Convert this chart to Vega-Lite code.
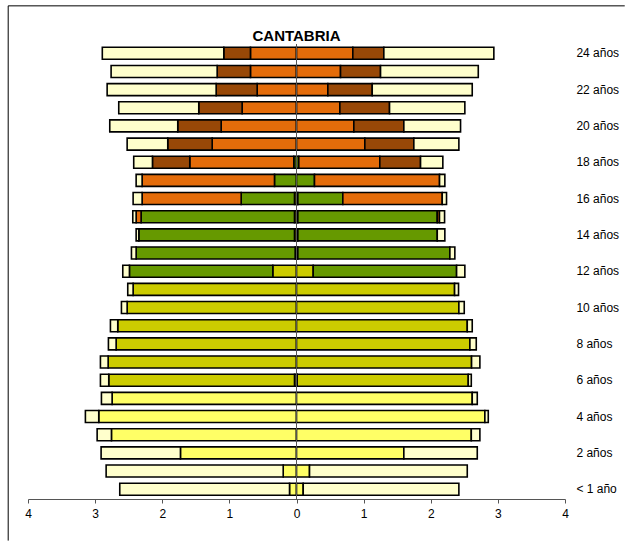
{
  "$schema": "https://vega.github.io/schema/vega-lite/v6.json",
  "width": 537,
  "height": 455,
  "autosize": {"type": "pad"},
  "padding": {"left": 7, "top": 5, "right": 0, "bottom": 0},
  "background": "white",
  "config": {"view": {"stroke": null}, "font": "Liberation Sans"},
  "datasets": {
    "d": [
      {"age":24,"cat":"post","o":4,"v":-0.686},{"age":24,"cat":"sup","o":5,"v":-0.397},{"age":24,"cat":"no","o":6,"v":-1.81},
      {"age":24,"cat":"post","o":4,"v":0.839},{"age":24,"cat":"sup","o":5,"v":0.462},{"age":24,"cat":"no","o":6,"v":1.639},
      {"age":23,"cat":"post","o":4,"v":-0.686},{"age":23,"cat":"sup","o":5,"v":-0.496},{"age":23,"cat":"no","o":6,"v":-1.58},
      {"age":23,"cat":"post","o":4,"v":0.656},{"age":23,"cat":"sup","o":5,"v":0.596},{"age":23,"cat":"no","o":6,"v":1.456},
      {"age":22,"cat":"post","o":4,"v":-0.586},{"age":22,"cat":"sup","o":5,"v":-0.611},{"age":22,"cat":"no","o":6,"v":-1.624},
      {"age":22,"cat":"post","o":4,"v":0.467},{"age":22,"cat":"sup","o":5,"v":0.661},{"age":22,"cat":"no","o":6,"v":1.49},
      {"age":21,"cat":"post","o":4,"v":-0.81},{"age":21,"cat":"sup","o":5,"v":-0.646},{"age":21,"cat":"no","o":6,"v":-1.192},
      {"age":21,"cat":"post","o":4,"v":0.646},{"age":21,"cat":"sup","o":5,"v":0.74},{"age":21,"cat":"no","o":6,"v":1.122},
      {"age":20,"cat":"post","o":4,"v":-1.122},{"age":20,"cat":"sup","o":5,"v":-0.647},{"age":20,"cat":"no","o":6,"v":-1.013},
      {"age":20,"cat":"post","o":4,"v":0.854},{"age":20,"cat":"sup","o":5,"v":0.745},{"age":20,"cat":"no","o":6,"v":0.845},
      {"age":19,"cat":"post","o":4,"v":-1.256},{"age":19,"cat":"sup","o":5,"v":-0.662},{"age":19,"cat":"no","o":6,"v":-0.605},
      {"age":19,"cat":"post","o":4,"v":1.018},{"age":19,"cat":"sup","o":5,"v":0.73},{"age":19,"cat":"no","o":6,"v":0.671},
      {"age":18,"cat":"eso","o":3,"v":-0.04},{"age":18,"cat":"post","o":4,"v":-1.55},{"age":18,"cat":"sup","o":5,"v":-0.556},{"age":18,"cat":"no","o":6,"v":-0.279},
      {"age":18,"cat":"eso","o":3,"v":0.034},{"age":18,"cat":"post","o":4,"v":1.207},{"age":18,"cat":"sup","o":5,"v":0.607},{"age":18,"cat":"no","o":6,"v":0.332},
      {"age":17,"cat":"eso","o":3,"v":-0.328},{"age":17,"cat":"post","o":4,"v":-1.972},{"age":17,"cat":"no","o":6,"v":-0.089},
      {"age":17,"cat":"eso","o":3,"v":0.268},{"age":17,"cat":"post","o":4,"v":1.863},{"age":17,"cat":"no","o":6,"v":0.079},
      {"age":16,"cat":"pri","o":2,"v":-0.03},{"age":16,"cat":"eso","o":3,"v":-0.794},{"age":16,"cat":"post","o":4,"v":-1.476},{"age":16,"cat":"no","o":6,"v":-0.134},
      {"age":16,"cat":"pri","o":2,"v":0.02},{"age":16,"cat":"eso","o":3,"v":0.67},{"age":16,"cat":"post","o":4,"v":1.481},{"age":16,"cat":"no","o":6,"v":0.064},
      {"age":15,"cat":"pri","o":2,"v":-0.03},{"age":15,"cat":"eso","o":3,"v":-2.285},{"age":15,"cat":"post","o":4,"v":-0.074},{"age":15,"cat":"no","o":6,"v":-0.05},
      {"age":15,"cat":"pri","o":2,"v":0.02},{"age":15,"cat":"eso","o":3,"v":2.077},{"age":15,"cat":"post","o":4,"v":0.033},{"age":15,"cat":"no","o":6,"v":0.076},
      {"age":14,"cat":"pri","o":2,"v":-0.03},{"age":14,"cat":"eso","o":3,"v":-2.319},{"age":14,"cat":"no","o":6,"v":-0.04},
      {"age":14,"cat":"pri","o":2,"v":0.02},{"age":14,"cat":"eso","o":3,"v":2.077},{"age":14,"cat":"no","o":6,"v":0.113},
      {"age":13,"cat":"pri","o":2,"v":-0.02},{"age":13,"cat":"eso","o":3,"v":-2.369},{"age":13,"cat":"no","o":6,"v":-0.07},
      {"age":13,"cat":"pri","o":2,"v":0.02},{"age":13,"cat":"eso","o":3,"v":2.265},{"age":13,"cat":"no","o":6,"v":0.074},
      {"age":12,"cat":"pri","o":2,"v":-0.353},{"age":12,"cat":"eso","o":3,"v":-2.136},{"age":12,"cat":"no","o":6,"v":-0.099},
      {"age":12,"cat":"pri","o":2,"v":0.249},{"age":12,"cat":"eso","o":3,"v":2.136},{"age":12,"cat":"no","o":6,"v":0.123},
      {"age":11,"cat":"pri","o":2,"v":-2.434},{"age":11,"cat":"no","o":6,"v":-0.08},
      {"age":11,"cat":"pri","o":2,"v":2.355},{"age":11,"cat":"no","o":6,"v":0.059},
      {"age":10,"cat":"pri","o":2,"v":-2.523},{"age":10,"cat":"no","o":6,"v":-0.085},
      {"age":10,"cat":"pri","o":2,"v":2.419},{"age":10,"cat":"no","o":6,"v":0.08},
      {"age":9,"cat":"pri","o":2,"v":-2.663},{"age":9,"cat":"no","o":6,"v":-0.109},
      {"age":9,"cat":"pri","o":2,"v":2.544},{"age":9,"cat":"no","o":6,"v":0.074},
      {"age":8,"cat":"pri","o":2,"v":-2.687},{"age":8,"cat":"no","o":6,"v":-0.115},
      {"age":8,"cat":"pri","o":2,"v":2.583},{"age":8,"cat":"no","o":6,"v":0.095},
      {"age":7,"cat":"pri","o":2,"v":-2.806},{"age":7,"cat":"no","o":6,"v":-0.115},
      {"age":7,"cat":"pri","o":2,"v":2.608},{"age":7,"cat":"no","o":6,"v":0.124},
      {"age":6,"cat":"inf","o":1,"v":-0.03},{"age":6,"cat":"pri","o":2,"v":-2.767},{"age":6,"cat":"no","o":6,"v":-0.124},
      {"age":6,"cat":"inf","o":1,"v":0.01},{"age":6,"cat":"pri","o":2,"v":2.549},{"age":6,"cat":"no","o":6,"v":0.045},
      {"age":5,"cat":"inf","o":1,"v":-2.747},{"age":5,"cat":"no","o":6,"v":-0.159},
      {"age":5,"cat":"inf","o":1,"v":2.618},{"age":5,"cat":"no","o":6,"v":0.075},
      {"age":4,"cat":"inf","o":1,"v":-2.946},{"age":4,"cat":"no","o":6,"v":-0.199},
      {"age":4,"cat":"inf","o":1,"v":2.806},{"age":4,"cat":"no","o":6,"v":0.051},
      {"age":3,"cat":"inf","o":1,"v":-2.757},{"age":3,"cat":"no","o":6,"v":-0.213},
      {"age":3,"cat":"inf","o":1,"v":2.604},{"age":3,"cat":"no","o":6,"v":0.128},
      {"age":2,"cat":"inf","o":1,"v":-1.729},{"age":2,"cat":"no","o":6,"v":-1.182},
      {"age":2,"cat":"inf","o":1,"v":1.599},{"age":2,"cat":"no","o":6,"v":1.094},
      {"age":1,"cat":"inf","o":1,"v":-0.198},{"age":1,"cat":"no","o":6,"v":-2.638},
      {"age":1,"cat":"inf","o":1,"v":0.194},{"age":1,"cat":"no","o":6,"v":2.35},
      {"age":0,"cat":"inf","o":1,"v":-0.104},{"age":0,"cat":"no","o":6,"v":-2.529},
      {"age":0,"cat":"inf","o":1,"v":0.1},{"age":0,"cat":"no","o":6,"v":2.319}
    ],
    "labels": [
      {"age":24,"label":"24 años"},{"age":22,"label":"22 años"},{"age":20,"label":"20 años"},
      {"age":18,"label":"18 años"},{"age":16,"label":"16 años"},{"age":14,"label":"14 años"},
      {"age":12,"label":"12 años"},{"age":10,"label":"10 años"},{"age":8,"label":"8 años"},
      {"age":6,"label":"6 años"},{"age":4,"label":"4 años"},{"age":2,"label":"2 años"},
      {"age":0,"label":"< 1 año"}
    ]
  },
  "layer": [
    {
      "data": {"name": "d"},
      "mark": {"type": "bar", "orient": "horizontal", "size": 12, "stroke": "black", "strokeWidth": 1.6},
      "encoding": {
        "x": {
          "field": "v", "type": "quantitative", "stack": "zero",
          "scale": {"domain": [-4, 4], "nice": false, "zero": false, "padding": 0},
          "axis": {
            "title": null, "grid": false, "values": [-4,-3,-2,-1,0,1,2,3,4],
            "labelExpr": "abs(datum.value)", "domainColor": "#555555", "tickColor": "#555555",
            "tickSize": 4, "labelFontSize": 12, "labelColor": "black", "labelPadding": 5,
            "labelFlush": false, "labelOverlap": false
          }
        },
        "y": {
          "field": "age", "type": "quantitative",
          "scale": {"domain": [-0.54, 24.51], "nice": false, "zero": false, "padding": 0},
          "axis": null
        },
        "color": {
          "field": "cat", "type": "nominal",
          "scale": {"domain": ["inf","pri","eso","post","sup","no"], "range": ["#FFFF66","#CCCC00","#669900","#E46C0A","#984807","#FFFFCC"]},
          "legend": null
        },
        "order": {"field": "o", "type": "quantitative"}
      }
    },
    {
      "data": {"values": [{}]},
      "mark": {"type": "rule", "color": "#555555", "strokeWidth": 1},
      "encoding": {"x": {"datum": 0}}
    },
    {
      "data": {"name": "labels"},
      "mark": {"type": "text", "align": "left", "baseline": "middle", "fontSize": 12, "font": "Liberation Sans", "color": "black", "clip": false},
      "encoding": {"x": {"datum": 4.17}, "y": {"field": "age", "type": "quantitative"}, "text": {"field": "label"}}
    },
    {
      "data": {"values": [{}]},
      "mark": {"type": "rule", "color": "black", "strokeWidth": 1, "clip": false},
      "encoding": {"x": {"datum": -4.295}, "y": {"datum": 26.61}, "y2": {"datum": -2.83}}
    },
    {
      "data": {"values": [{}]},
      "mark": {"type": "rule", "color": "black", "strokeWidth": 1, "clip": false},
      "encoding": {"x": {"datum": -4.295}, "x2": {"datum": 4.89}, "y": {"datum": 26.61}}
    },
    {
      "data": {"values": [{}]},
      "mark": {"type": "text", "text": "CANTABRIA", "fontWeight": "bold", "fontSize": 15, "font": "Liberation Sans", "align": "center", "baseline": "alphabetic", "color": "black"},
      "encoding": {"x": {"datum": 0}, "y": {"datum": 24.68}}
    }
  ]
}
